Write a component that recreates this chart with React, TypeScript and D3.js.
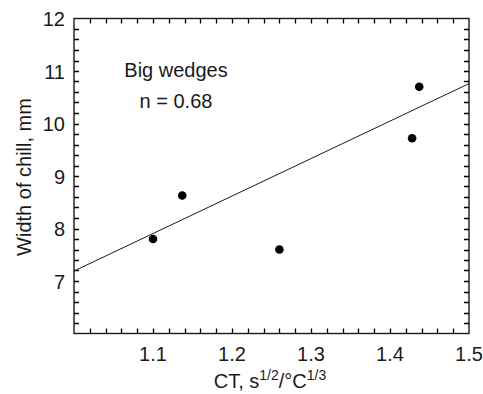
import React from "react";
import * as d3 from "d3";

const ctValues = [1.1, 1.137, 1.26, 1.428, 1.437];
const chillWidths = [7.8, 8.63, 7.6, 9.72, 10.7];
const fitX = [1.0, 1.5];
const fitY = [7.19, 10.76];
const xTickLabels = [1.1, 1.2, 1.3, 1.4, 1.5];
const yTickLabels = [7, 8, 9, 10, 11, 12];
const annotation = ["Big wedges", "n = 0.68"];

const W = 483;
const H = 394;
const FONT = "'Liberation Sans', Arial, sans-serif";
const INK = "#1a1a1a";

export default function App() {
  const x = d3.scaleLinear().domain([1.0, 1.5]).range([74, 469]);
  const y = d3.scaleLinear().domain([6, 12]).range([333.5, 18.5]);

  const xMinor = d3.range(1, 25).map((i) => 1.0 + i * 0.02);
  const yMinor = d3.range(1, 30).map((i) => 6 + i * 0.2);

  const fitLine = d3
    .line<number>()
    .x((_, i) => x(fitX[i]))
    .y((d) => y(d));

  const [x0, x1] = x.range();
  const [y0, y1] = y.range();
  const tl = 5;

  let bottomTicks = "";
  let topTicks = "";
  xMinor.forEach((v) => {
    const px = Math.round(x(v)) + 0.5;
    bottomTicks += `M${px},${y0}V${y0 - tl}`;
    topTicks += `M${px},${y1}V${y1 + tl}`;
  });
  let leftTicks = "";
  let rightTicks = "";
  yMinor.forEach((v) => {
    const py = Math.round(y(v)) + 0.5;
    leftTicks += `M${x0},${py}H${x0 + tl}`;
    rightTicks += `M${x1},${py}H${x1 - tl}`;
  });

  return (
    <svg width={W} height={H} style={{ position: "absolute", left: 0, top: 0 }}>
      <rect
        x={x0}
        y={y1}
        width={x1 - x0}
        height={y0 - y1}
        fill="none"
        stroke={INK}
        strokeWidth={1.4}
      />
      <path d={bottomTicks} stroke="#000" strokeWidth={1.3} fill="none" />
      <path d={topTicks} stroke="#000" strokeWidth={1.3} fill="none" />
      <path d={leftTicks} stroke="#000" strokeWidth={1.3} fill="none" />
      <path d={rightTicks} stroke="#000" strokeWidth={1.3} fill="none" />
      <g fontFamily={FONT} fontSize={20} fill={INK}>
        {xTickLabels.map((v) => (
          <text key={"xl" + v} x={x(v)} y={y0 + 27} textAnchor="middle">
            {d3.format(".1f")(v)}
          </text>
        ))}
        {yTickLabels.map((v) => (
          <text key={"yl" + v} x={x0 - 9} y={y(v) + 7.5} textAnchor="end">
            {v}
          </text>
        ))}
        <text x={176} y={77} textAnchor="middle">
          {annotation[0]}
        </text>
        <text x={176} y={108} textAnchor="middle">
          {annotation[1]}
        </text>
        <text x={270} y={388} textAnchor="middle">
          CT, s
          <tspan fontSize={14} dy={-8}>1/2</tspan>
          <tspan dy={8}>/°C</tspan>
          <tspan fontSize={14} dy={-8}>1/3</tspan>
        </text>
        <text transform={`translate(31,177) rotate(-90)`} textAnchor="middle">
          Width of chill, mm
        </text>
      </g>
      <path d={fitLine(fitY) || ""} fill="none" stroke={INK} strokeWidth={1} />
      {ctValues.map((v, i) => (
        <circle key={"p" + i} cx={x(v)} cy={y(chillWidths[i])} r={4.3} fill="#000" />
      ))}
    </svg>
  );
}
